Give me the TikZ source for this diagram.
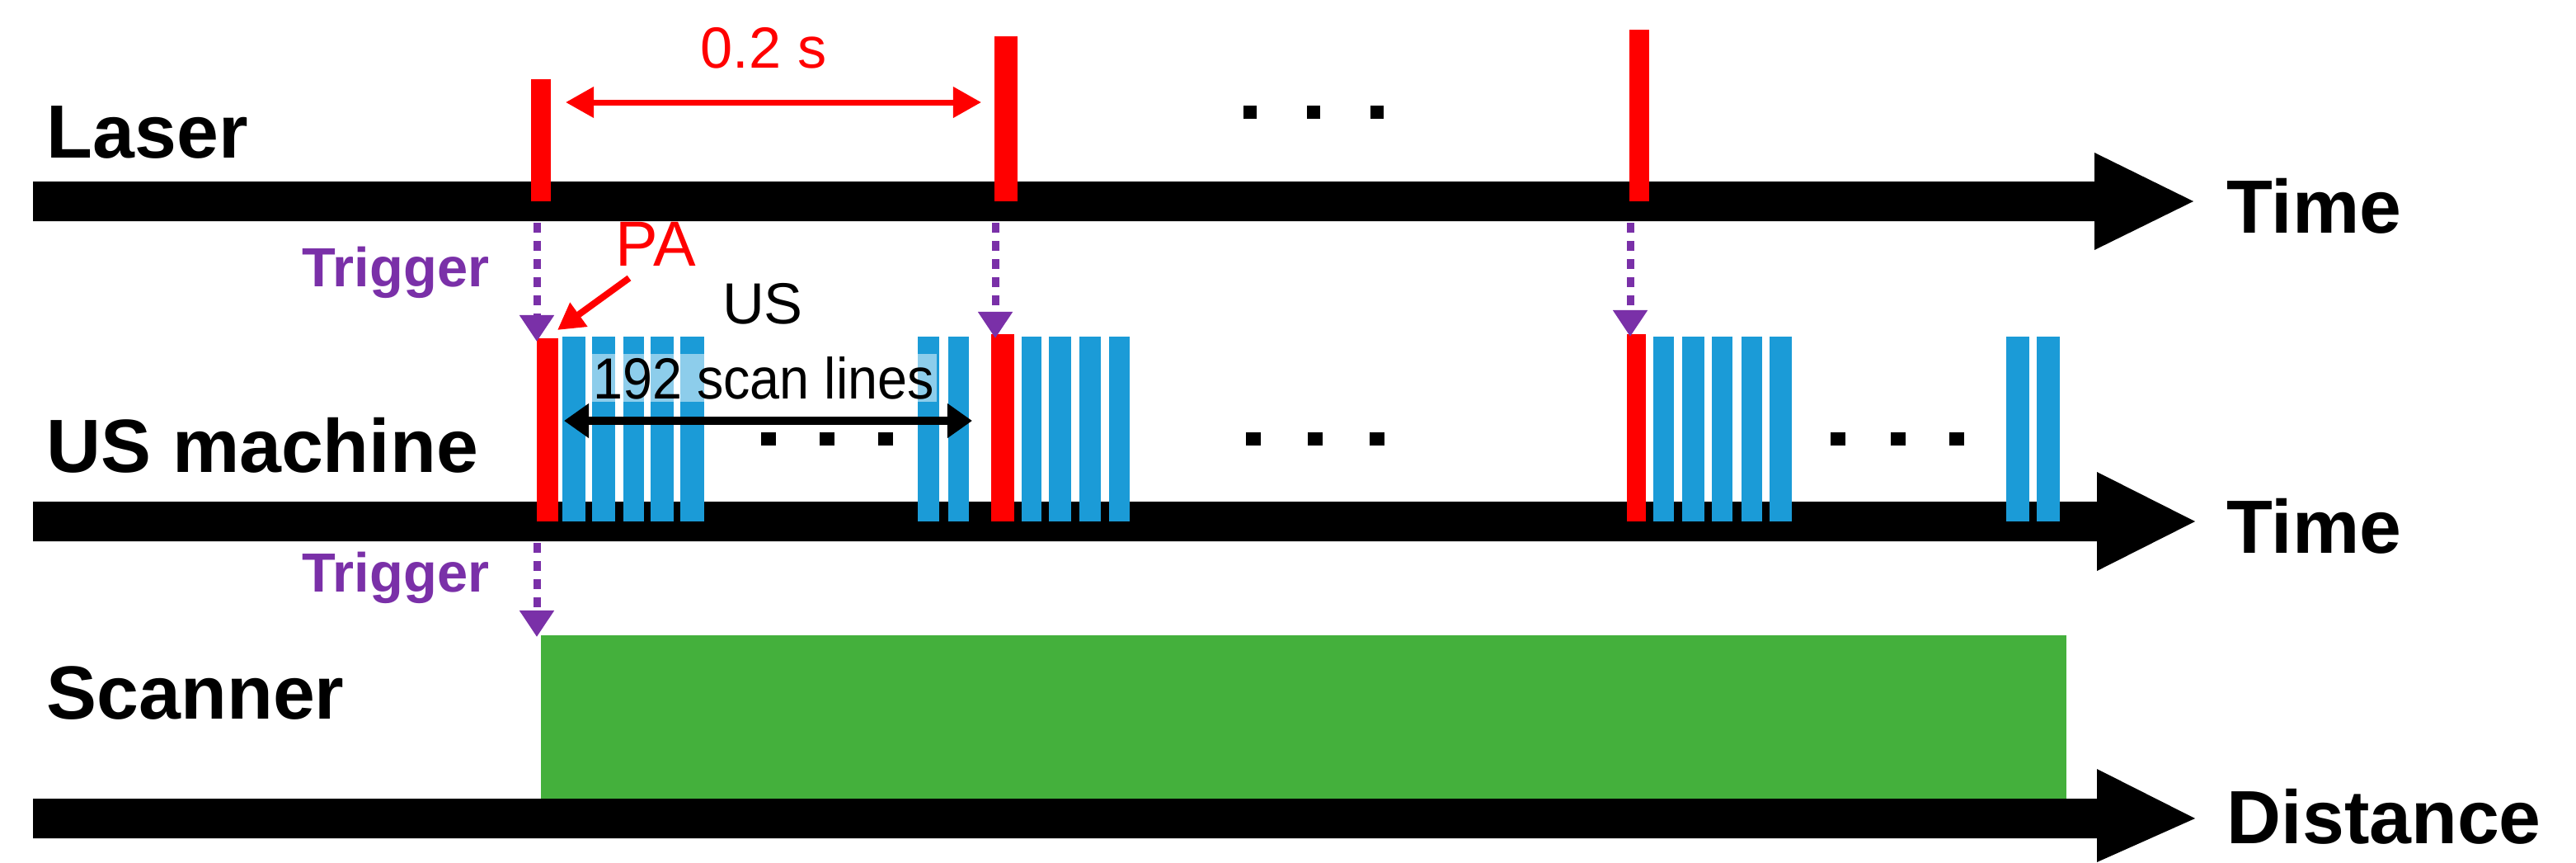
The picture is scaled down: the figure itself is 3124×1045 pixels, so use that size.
\documentclass[tikz,border=0pt]{standalone}
\usepackage{fontspec}
\setmainfont{Liberation Sans}
\usetikzlibrary{arrows.meta}
\definecolor{pred}{HTML}{FF0000}
\definecolor{pblue}{HTML}{1B9BD7}
\definecolor{ppurple}{HTML}{7A30A8}
\definecolor{pgreen}{HTML}{44B03C}
\begin{document}
\begin{tikzpicture}[x=0.01cm,y=-0.01cm,
  big/.style={font=\fontsize{26}{28}\selectfont\bfseries,inner sep=0pt},
  trig/.style={font=\fontsize{19}{21}\selectfont\bfseries,text=ppurple,inner sep=0pt},
  mid/.style={font=\fontsize{20}{22}\selectfont,inner sep=0pt},
  axis/.style={fill=black},
  trigarr/.style={ppurple,line width=0.09cm,dash pattern=on 0.12cm off 0.1cm,-{Triangle[width=0.4cm,length=0.32cm]}},
  dot/.style={fill=black}]
\useasboundingbox (0,0) rectangle (3124,1045);
% axes
\fill[axis] (40,220) -- (2540,220) -- (2540,185) -- (2660,244) -- (2540,303) -- (2540,268) -- (40,268) -- cycle;
\fill[axis] (40,608) -- (2543,608) -- (2543,572) -- (2662,632) -- (2543,692) -- (2543,656) -- (40,656) -- cycle;
\fill[axis] (40,968) -- (2543,968) -- (2543,932) -- (2662,992) -- (2543,1045) -- (2543,1016) -- (40,1016) -- cycle;
% labels
\node[big,anchor=west] (laser) at (56,160) {Laser};
\node[big,anchor=west] (usm) at (56,540) {US machine};
\node[big,anchor=west] (scan) at (56,840) {Scanner};
\node[big,anchor=west] (t1) at (2700,250) {Time};
\node[big,anchor=west] (t2) at (2700,638) {Time};
\node[big,anchor=west] (dist) at (2700,990) {Distance};
% laser pulses
\fill[pred] (644,96) rectangle (668,244);
\fill[pred] (1206,44) rectangle (1234,244);
\fill[pred] (1976,36) rectangle (2000,244);
\coordinate (a1) at (686,124); \coordinate (a2) at (1190,124);
\draw[pred,line width=0.07cm,{Triangle[width=0.36cm,length=0.34cm]}-{Triangle[width=0.36cm,length=0.34cm]}] (a1) -- (a2);
\node[mid,text=pred] (dt) at (926,58) {0.2 s};
\foreach \x in {1516,1593,1670} \fill[dot] (\x-8,128) rectangle (\x+8,144);
% US machine pulses
\fill[pred] (651,410) rectangle (677,632);
\fill[pred] (1202,405) rectangle (1230,632);
\fill[pred] (1973,405) rectangle (1996,632);
\foreach \a/\b in {682/710,718/746,756/781,789/817,825/854,1113/1139,1150/1175,1239/1263,1272/1299,1309/1335,1345/1370,2005/2030,2040/2067,2076/2101,2112/2137,2146/2173,2433/2461,2470/2498}
  \fill[pblue] (\a,408) rectangle (\b,632);
\foreach \x in {932,1003,1074,1520,1595,1670,2229,2302,2373} \fill[dot] (\x-9,524) rectangle (\x+9,540);
\node[mid,text=pred,font=\fontsize{22}{24}\selectfont] (pa) at (795,296) {PA};
\coordinate (pas) at (763,337); \coordinate (pae) at (676,400);
\draw[pred,line width=0.08cm,-{Triangle[width=0.34cm,length=0.32cm]}] (pas) -- (pae);
\node[mid] (us) at (925,368) {US};
\node[mid,fill=white,fill opacity=0.5,text opacity=1,inner sep=1pt,xscale=0.92] (sl) at (926,458) {192 scan lines};
\coordinate (b1) at (684,510); \coordinate (b2) at (1179,510);
\draw[line width=0.1cm,{Triangle[width=0.4cm,length=0.3cm]}-{Triangle[width=0.4cm,length=0.3cm]}] (b1) -- (b2);
% triggers
\node[trig] (tr1) at (480,330) {Trigger};
\node[trig] (tr2) at (480,700) {Trigger};
\coordinate (s1) at (651,270); \coordinate (e1) at (651,414);
\coordinate (s2) at (1207,270); \coordinate (e2) at (1207,410);
\coordinate (s3) at (1977,270); \coordinate (e3) at (1977,408);
\coordinate (s4) at (651,658); \coordinate (e4) at (651,772);
\draw[trigarr] (s1) -- (e1);
\draw[trigarr] (s2) -- (e2);
\draw[trigarr] (s3) -- (e3);
\draw[trigarr] (s4) -- (e4);
% scanner
\fill[pgreen] (656,770) rectangle (2506,968);
\end{tikzpicture}
\end{document}
